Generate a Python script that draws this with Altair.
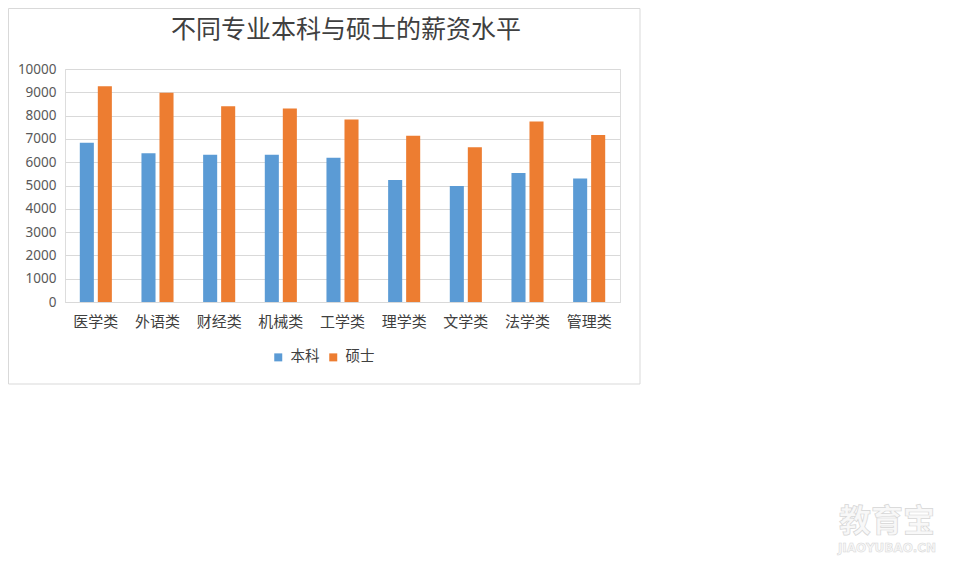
import altair as alt
import pandas as pd

categories = ["医学类", "外语类", "财经类", "机械类", "工学类", "理学类", "文学类", "法学类", "管理类"]
series = ["本科", "硕士"]
bachelor = [6840, 6380, 6320, 6320, 6190, 5240, 4980, 5540, 5300]
master = [9260, 8980, 8400, 8300, 7830, 7130, 6640, 7750, 7170]
y_ticks = [0, 1000, 2000, 3000, 4000, 5000, 6000, 7000, 8000, 9000, 10000]
colors = ["#5B9BD5", "#ED7D31"]
title_text = "不同专业本科与硕士的薪资水平"
watermark_cn = "教育宝"
watermark_en = "JIAOYUBAO.CN"

rows = []
for c, b, m in zip(categories, bachelor, master):
    rows.append({"cat": c, "series": series[0], "value": b})
    rows.append({"cat": c, "series": series[1], "value": m})
df = pd.DataFrame(rows)

CJK = "Noto Sans CJK SC"

bars = alt.Chart(df).mark_bar().encode(
    x=alt.X("cat:N", sort=categories,
            scale=alt.Scale(paddingInner=0.48, paddingOuter=0.24),
            axis=alt.Axis(title=None, labelAngle=0, labelFont=CJK, labelFontSize=15,
                          labelColor="#404040", labelPadding=12, ticks=False,
                          domainColor="#D9D9D9", domainWidth=1)),
    xOffset=alt.XOffset("series:N", sort=series, scale=alt.Scale(paddingInner=0.22)),
    y=alt.Y("value:Q", scale=alt.Scale(domain=[0, 10000]),
            axis=alt.Axis(values=y_ticks, title=None, domain=False, ticks=False, format="d",
                          gridColor="#D9D9D9", labelColor="#595959", labelFont="Noto Sans",
                          labelFontSize=13.5, labelPadding=9)),
    color=alt.Color("series:N", sort=series,
                    scale=alt.Scale(domain=series, range=colors),
                    legend=alt.Legend(title=None, orient="none", legendX=206, legendY=281,
                                      direction="horizontal", symbolType="square",
                                      symbolSize=64, symbolStrokeWidth=0,
                                      labelFont=CJK, labelFontSize=14.5, labelColor="#404040",
                                      labelOffset=5, columnPadding=6)),
)

one = alt.Data(values=[{}])

frame = alt.Chart(one).mark_rect(filled=False, stroke="#D9D9D9", strokeWidth=1).encode(
    x=alt.value(-56.5), x2=alt.value(575), y=alt.value(-60.5), y2=alt.value(315)
)

title = alt.Chart(one).mark_text(
    text=title_text, font=CJK, fontSize=25, color="#404040", align="center", baseline="middle"
).encode(x=alt.value(281), y=alt.value(-39))

wm1 = alt.Chart(one).mark_text(
    text=watermark_cn, font=CJK, fontSize=32, fontWeight="bold", fill="#f8f8f8",
    stroke="#d6d6d6", strokeWidth=0.7, align="center", baseline="middle"
).encode(x=alt.value(822), y=alt.value(453))

wm2 = alt.Chart(one).mark_text(
    text=watermark_en, font="DejaVu Sans", fontSize=12, fontWeight="bold", fill="#f8f8f8",
    stroke="#d6d6d6", strokeWidth=0.5, align="center", baseline="middle"
).encode(x=alt.value(822), y=alt.value(479))

chart = alt.layer(frame, bars, title, wm1, wm2).properties(
    width=555, height=233,
    autosize="none",
    padding={"left": 57, "top": 61, "right": 336, "bottom": 260},
).configure_view(stroke=None).configure(background="white")

chart.save("out.html", embed_options={"renderer": "svg", "actions": False})
